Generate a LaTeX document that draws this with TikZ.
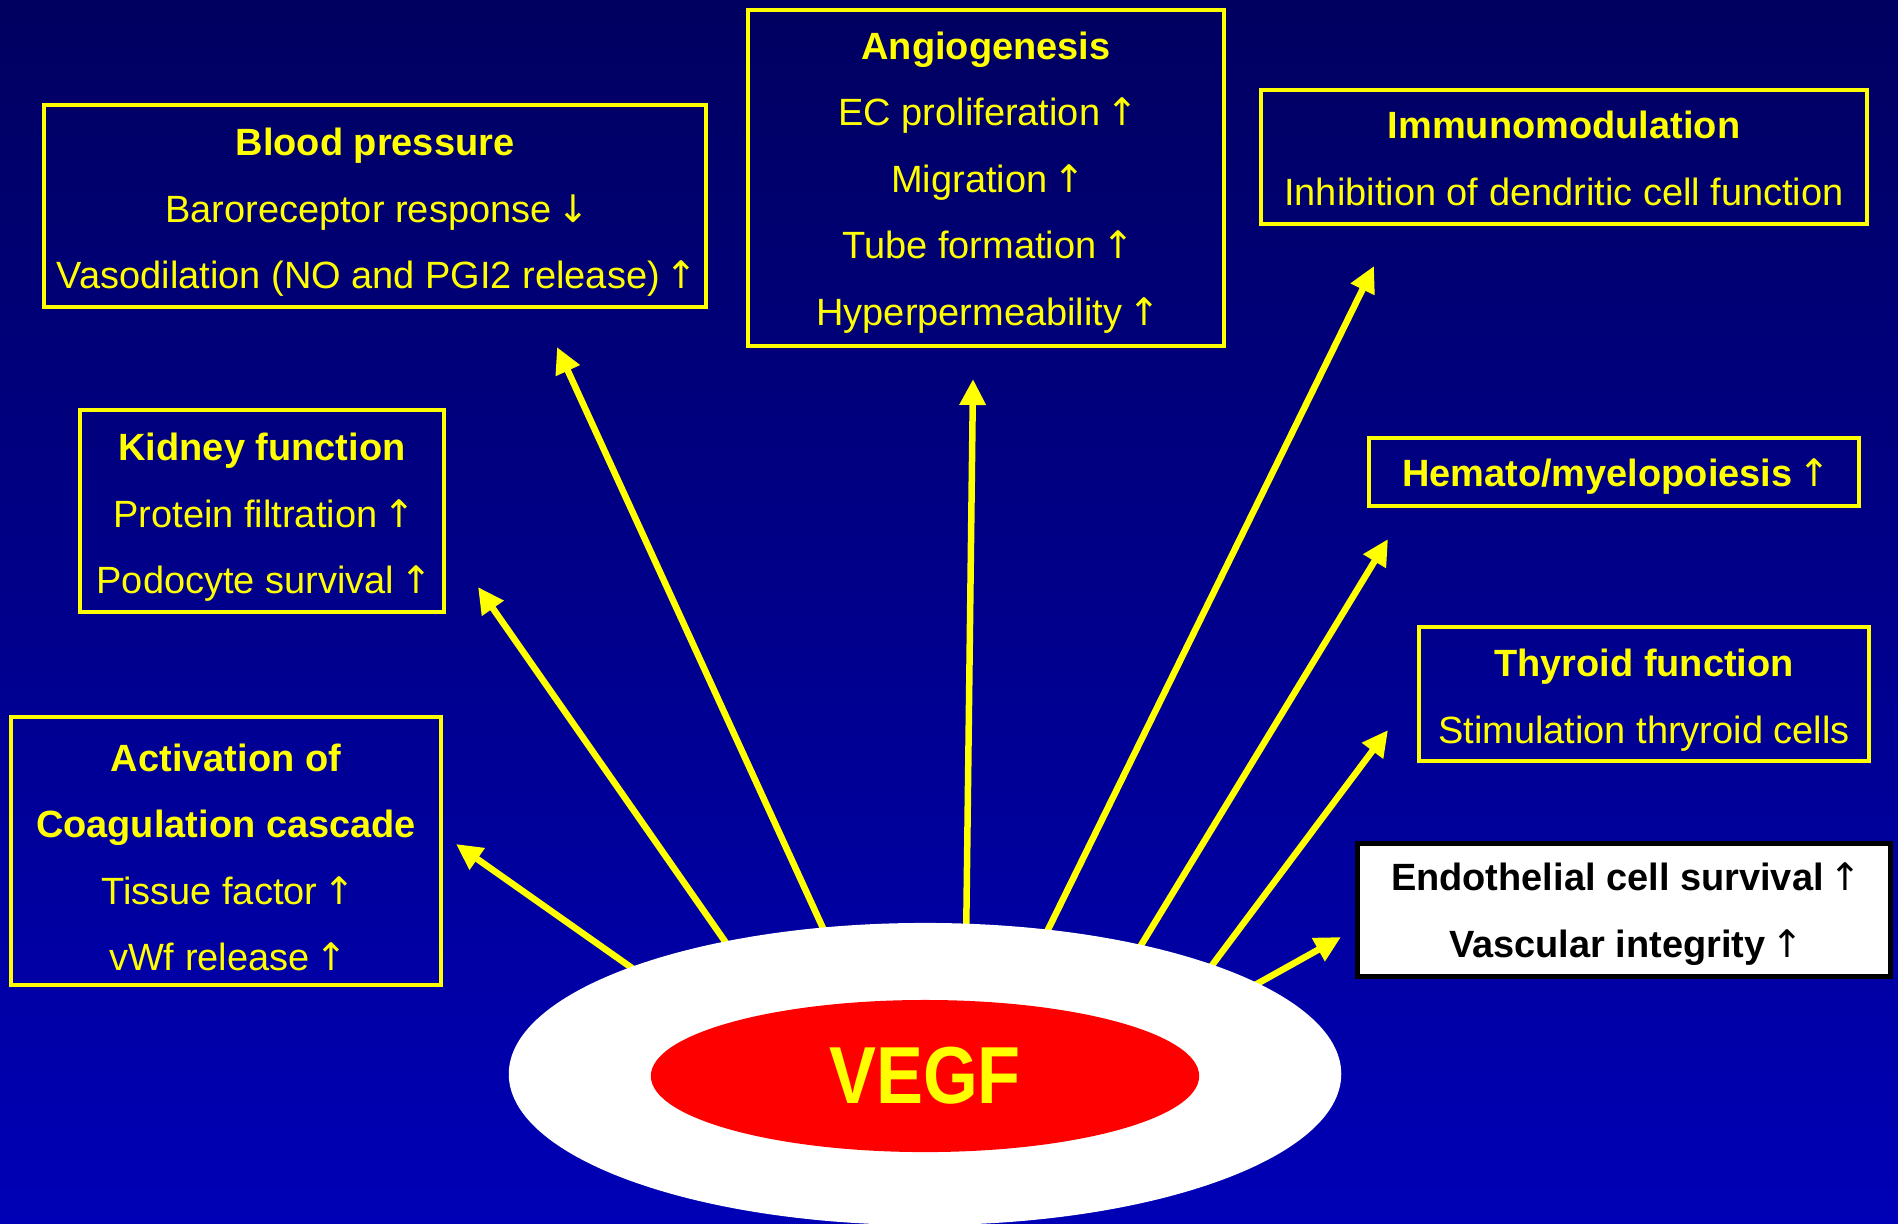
\documentclass[tikz,border=0pt]{standalone}
\usepackage{fontspec}
\setmainfont{Liberation Sans}
\newfontfamily\arrowfont{DejaVu Sans}
\newcommand{\upar}{\kern-0.12em{\arrowfont\mdseries ↑}\kern-0.12em}
\newcommand{\downar}{\kern-0.12em{\arrowfont\mdseries ↓}\kern-0.12em}
\newcommand{\firstline}[1][0.40cm]{\rule{0pt}{#1}}
\usetikzlibrary{arrows.meta,shapes.geometric,positioning}
\definecolor{navytop}{RGB}{0,0,96}
\definecolor{navybot}{RGB}{0,0,182}
\definecolor{vyellow}{RGB}{255,255,0}
\definecolor{vred}{RGB}{255,0,0}
\tikzset{
  box/.style={draw=vyellow,line width=0.04cm,text=vyellow,align=center,inner sep=0pt},
  whitebox/.style={box,draw=black,fill=white,line width=0.05cm,text=black},
  ray/.style={draw=vyellow,line width=0.065cm,-{Triangle[length=0.26cm,width=0.25cm]}},
  every node/.style={font=\fontsize{10.8}{18.9}\selectfont}
}

\begin{document}
\begin{tikzpicture}[x=0.01cm,y=-0.01cm]
  % background
  \shade[top color=navytop,bottom color=navybot] (0,0) rectangle (1898,1223);
  \useasboundingbox (0,0) rectangle (1898,1223);

  % arrow tails (inside the ellipse) and tips
  \coordinate (s1) at (649,980);  \coordinate (t1) at (456,844);
  \coordinate (s2) at (738,960);  \coordinate (t2) at (478,587);
  \coordinate (s3) at (833,950);  \coordinate (t3) at (557,347);
  \coordinate (s4) at (966,947);  \coordinate (t4) at (973,379);
  \coordinate (s5) at (1037,952); \coordinate (t5) at (1374,266);
  \coordinate (s6) at (1129,965); \coordinate (t6) at (1388,539);
  \coordinate (s7) at (1198,984); \coordinate (t7) at (1388,730);
  \coordinate (s8) at (1237,995); \coordinate (t8) at (1341,937);
  \foreach \i in {1,...,8}
    \draw[ray] (s\i) -- (t\i);

  % VEGF
  \node[ellipse,fill=white,minimum width=8.32cm,minimum height=3.02cm,inner sep=0pt] (outer) at (925,1074) {};
  \node[ellipse,fill=vred,minimum width=5.48cm,minimum height=1.52cm,inner sep=0pt,
        text=vyellow,font=\fontsize{23}{26}\selectfont\bfseries] (vegf) at (925,1076)
        {\scalebox{0.87}[1]{VEGF}};

  % effect boxes
  \node[box,minimum width=6.61cm,minimum height=2.02cm] (bp) at (375,206)
    {\firstline\textbf{Blood pressure}\\Baroreceptor response \downar\\Vasodilation (NO and PGI2 release) \upar};
  \node[box,minimum width=4.75cm,minimum height=3.35cm] (angio) at (986,178)
    {\firstline[0.36cm]\textbf{Angiogenesis}\\EC proliferation \upar\\Migration \upar\\Tube formation \upar\\Hyperpermeability \upar};
  \node[box,minimum width=6.06cm,minimum height=1.34cm] (immuno) at (1564,157)
    {\firstline[0.30cm]\textbf{Immunomodulation}\\Inhibition of dendritic cell function};
  \node[box,minimum width=3.64cm,minimum height=2.01cm] (kidney) at (262,511)
    {\firstline\textbf{Kidney function}\\Protein filtration \upar\\Podocyte survival \upar};
  \node[box,minimum width=4.89cm,minimum height=0.68cm] (hemato) at (1614,472)
    {\firstline[0.36cm]\textbf{Hemato/myelopoiesis \upar}};
  \node[box,minimum width=4.49cm,minimum height=1.34cm] (thyroid) at (1644,694)
    {\firstline\textbf{Thyroid function}\\Stimulation thryroid cells};
  \node[box,minimum width=4.29cm,minimum height=2.68cm] (coag) at (226,851)
    {\firstline\textbf{Activation of}\\\textbf{Coagulation cascade}\\Tissue factor \upar\\vWf release \upar};
  \node[whitebox,minimum width=5.32cm,minimum height=1.33cm] (endo) at (1624,910)
    {\firstline[0.36cm]\textbf{Endothelial cell survival \upar}\\\textbf{Vascular integrity \upar}};
\end{tikzpicture}
\end{document}
